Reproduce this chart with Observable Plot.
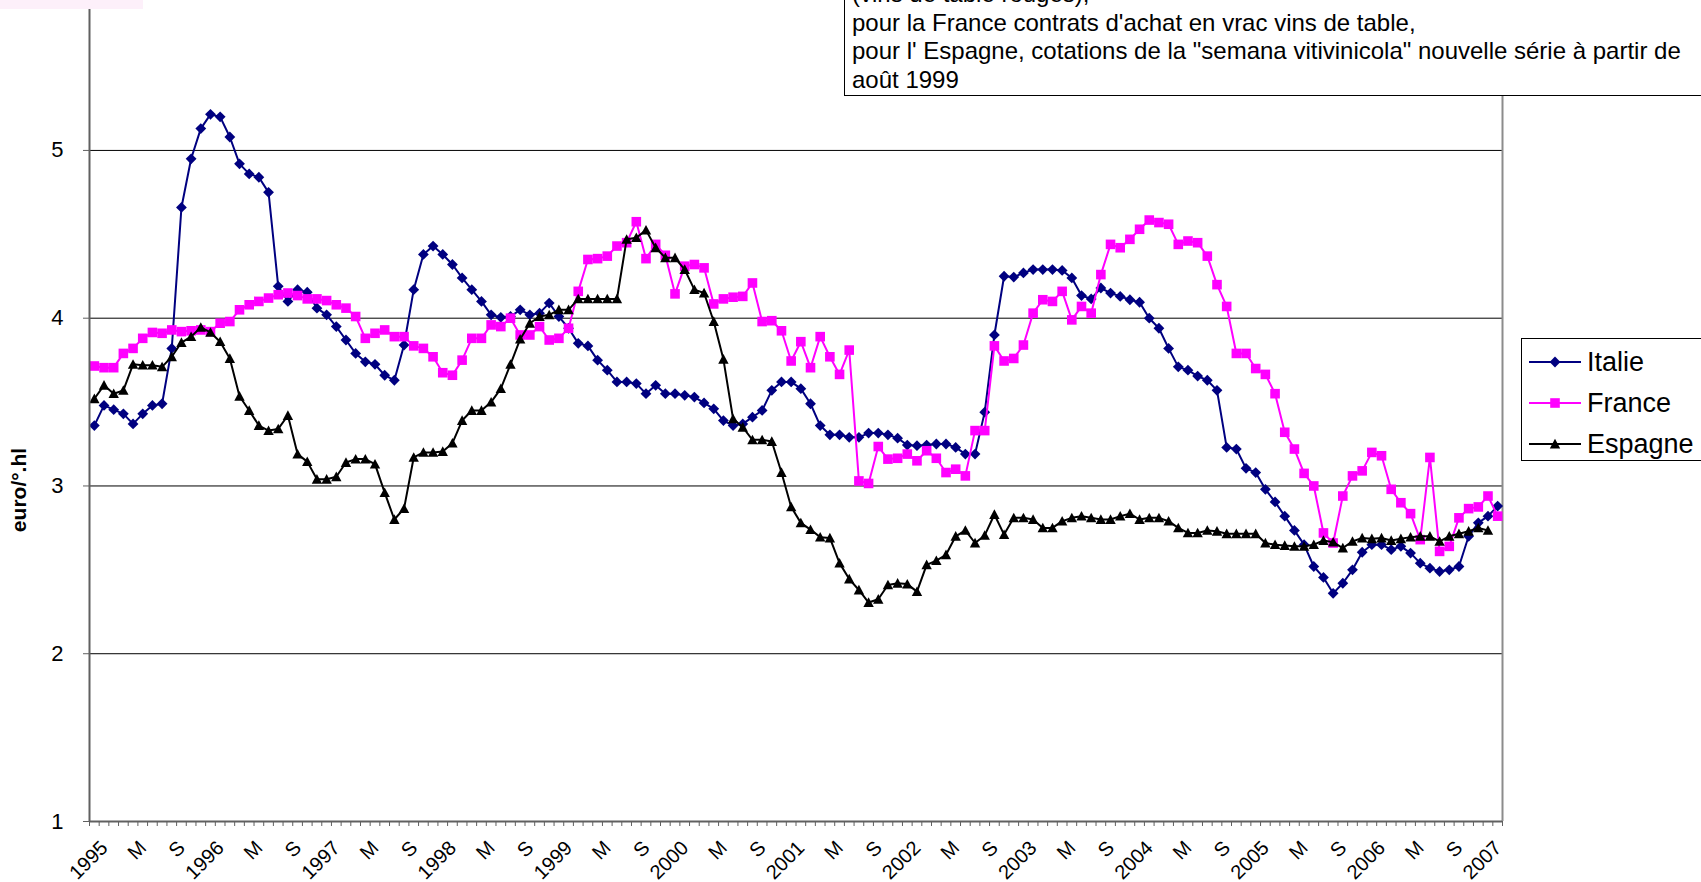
<!DOCTYPE html>
<html>
<head>
<meta charset="utf-8">
<script src="https://cdn.jsdelivr.net/npm/d3@7"></script>
<script src="https://cdn.jsdelivr.net/npm/@observablehq/plot@0.6"></script>
<style>
  body { margin: 0; background: #fff; }
  #wrap { position: relative; width: 1701px; height: 882px; overflow: hidden; font-family: Arial, "Liberation Sans", sans-serif; background: #fff; }
  #chart { position: absolute; left: 0; top: 0; }
  #note { position: absolute; left: 844px; top: -21px; width: 900px; border: 1px solid #000; background: #fff; font-size: 24px; line-height: 28.7px; padding-left: 7px; color: #000; white-space: nowrap; }
  #legend { position: absolute; left: 1521px; top: 338px; width: 220px; height: 121px; border: 1px solid #000; background: #fff; }
  .lrow { position: absolute; left: 5px; height: 30px; display: flex; align-items: center; font-size: 27px; color: #000; }
  .lrow svg { margin-right: 4px; }
  #pinkbar { position: absolute; left: 0; top: 0; width: 143px; height: 9px; background: #fdf0fa; }
  #ytitle { position: absolute; left: 19px; top: 490px; transform: translate(-50%, -50%) rotate(-90deg); font-weight: bold; font-size: 21px; white-space: nowrap; color: #000; }
</style>
</head>
<body>
<div id="wrap">
  <div id="chart"></div>
  <div id="pinkbar"></div>
  <div id="ytitle"></div>
  <div id="note">
    <div>(vins de table rouges),</div>
    <div>pour la France contrats d'achat en vrac vins de table,</div>
    <div>pour l' Espagne, cotations de la "semana vitivinicola" nouvelle série à partir de</div>
    <div>août 1999</div>
  </div>
  <div id="legend"></div>
</div>
<script>
// ---- Data (monthly, Jan 1995 onward), euro/°.hl ----
const seriesNames = ["Italie", "France", "Espagne"];

const italie = [
  3.36, 3.48, 3.455, 3.43, 3.37, 3.43, 3.48, 3.49, 3.82, 4.66, 4.95, 5.13,
  5.215, 5.20, 5.08, 4.92, 4.86, 4.84, 4.75, 4.19, 4.10, 4.17, 4.155, 4.06,
  4.02, 3.95, 3.87, 3.79, 3.74, 3.725, 3.66, 3.63, 3.84, 4.17, 4.38, 4.43,
  4.38, 4.32, 4.24, 4.17, 4.10, 4.02, 4.005, 4.01, 4.05, 4.02, 4.03, 4.09,
  4.01, 3.94, 3.85, 3.835, 3.75, 3.69, 3.62, 3.62, 3.61, 3.55, 3.60, 3.55,
  3.55, 3.54, 3.53, 3.495, 3.46, 3.39, 3.36, 3.37, 3.41, 3.45, 3.57, 3.62,
  3.62, 3.58, 3.49, 3.36, 3.305, 3.305, 3.29, 3.29, 3.315, 3.315, 3.305, 3.285,
  3.244, 3.24, 3.244, 3.25, 3.25, 3.23, 3.19, 3.19, 3.44, 3.90, 4.25, 4.245,
  4.27, 4.29, 4.29, 4.29, 4.285, 4.24, 4.135, 4.115, 4.18, 4.15, 4.13, 4.11,
  4.095, 4.00, 3.94, 3.82, 3.71, 3.69, 3.655, 3.63, 3.57, 3.23, 3.22, 3.105,
  3.08, 2.98, 2.905, 2.82, 2.735, 2.65, 2.52, 2.455, 2.36, 2.42, 2.50, 2.605,
  2.65, 2.65, 2.62, 2.64, 2.60, 2.54, 2.51, 2.49, 2.50, 2.52, 2.70, 2.78,
  2.82, 2.88
];

const france = [
  3.715, 3.705, 3.705, 3.79, 3.82, 3.88, 3.915, 3.91, 3.93, 3.92, 3.925, 3.93,
  3.92, 3.97, 3.98, 4.05, 4.08, 4.10, 4.12, 4.14, 4.15, 4.135, 4.115, 4.115,
  4.105, 4.08, 4.06, 4.01, 3.88, 3.91, 3.93, 3.89, 3.89, 3.835, 3.82, 3.77,
  3.675, 3.66, 3.75, 3.88, 3.88, 3.96, 3.95, 4.00, 3.90, 3.90, 3.95, 3.87,
  3.88, 3.94, 4.16, 4.35, 4.355, 4.37, 4.43, 4.45, 4.575, 4.355, 4.44, 4.375,
  4.145, 4.31, 4.32, 4.30, 4.085, 4.115, 4.125, 4.13, 4.21, 3.98, 3.985, 3.925,
  3.745, 3.86, 3.705, 3.89, 3.77, 3.665, 3.81, 3.03, 3.015, 3.235, 3.16, 3.165,
  3.19, 3.15, 3.21, 3.165, 3.08, 3.10, 3.06, 3.33, 3.33, 3.835, 3.745, 3.76,
  3.84, 4.03, 4.11, 4.10, 4.16, 3.99, 4.07, 4.03, 4.26, 4.44, 4.42, 4.47,
  4.53, 4.585, 4.57, 4.56, 4.44, 4.46, 4.45, 4.37, 4.20, 4.07, 3.79, 3.79,
  3.70, 3.665, 3.55, 3.32, 3.22, 3.075, 3.00, 2.72, 2.66, 2.94, 3.06, 3.09,
  3.20, 3.18, 2.98, 2.90, 2.835, 2.68, 3.17, 2.61, 2.64, 2.81, 2.865, 2.875,
  2.94, 2.82
];

const espagne = [
  3.52, 3.60, 3.55, 3.57, 3.725, 3.72, 3.72, 3.71, 3.77, 3.855, 3.89, 3.945,
  3.915, 3.86, 3.76, 3.535, 3.45, 3.36, 3.33, 3.34, 3.42, 3.19, 3.145, 3.04,
  3.04, 3.055, 3.14, 3.16, 3.16, 3.13, 2.96, 2.80, 2.865, 3.17, 3.20, 3.20,
  3.205, 3.255, 3.39, 3.45, 3.45, 3.50, 3.58, 3.725, 3.875, 3.97, 4.01, 4.02,
  4.05, 4.05, 4.115, 4.115, 4.115, 4.115, 4.115, 4.47, 4.48, 4.525, 4.42, 4.36,
  4.36, 4.29, 4.17, 4.15, 3.98, 3.755, 3.40, 3.35, 3.275, 3.275, 3.265, 3.08,
  2.875, 2.78, 2.74, 2.695, 2.69, 2.54, 2.445, 2.38, 2.305, 2.325, 2.41, 2.42,
  2.415, 2.37, 2.53, 2.555, 2.59, 2.70, 2.735, 2.66, 2.705, 2.83, 2.71, 2.81,
  2.81, 2.80, 2.75, 2.75, 2.79, 2.81, 2.82, 2.81, 2.80, 2.80, 2.82, 2.835,
  2.80, 2.81, 2.81, 2.79, 2.75, 2.72, 2.72, 2.735, 2.73, 2.715, 2.715, 2.715,
  2.715, 2.66, 2.65, 2.645, 2.64, 2.64, 2.65, 2.675, 2.665, 2.63, 2.67, 2.69,
  2.685, 2.69, 2.675, 2.685, 2.695, 2.70, 2.70, 2.67, 2.70, 2.715, 2.73, 2.75,
  2.735
];

const tickLabels = [
  "1995","M","S","1996","M","S","1997","M","S","1998","M","S",
  "1999","M","S","2000","M","S","2001","M","S","2002","M","S",
  "2003","M","S","2004","M","S","2005","M","S","2006","M","S","2007"
];
const yTicks = [1, 2, 3, 4, 5];
const gridValues = [2, 3, 4, 5];
const yTitle = "euro/°.hl";

// ---- Marker symbols (Excel-like) ----
const symDiamond = { draw(ctx, size) { const r = Math.sqrt(size / Math.PI); ctx.moveTo(0, -r); ctx.lineTo(r, 0); ctx.lineTo(0, r); ctx.lineTo(-r, 0); ctx.closePath(); } };
const symSquare = { draw(ctx, size) { const r = Math.sqrt(size / Math.PI); ctx.moveTo(-r, -r); ctx.lineTo(r, -r); ctx.lineTo(r, r); ctx.lineTo(-r, r); ctx.closePath(); } };
const symTriangle = { draw(ctx, size) { const r = Math.sqrt(size / Math.PI); ctx.moveTo(0, -r); ctx.lineTo(r, r * 0.85); ctx.lineTo(-r, r * 0.85); ctx.closePath(); } };

const styles = [
  { name: seriesNames[0], values: italie, color: "#000080", symbol: symDiamond, r: 5.4 },
  { name: seriesNames[1], values: france, color: "#FF00FF", symbol: symSquare, r: 4.8 },
  { name: seriesNames[2], values: espagne, color: "#000000", symbol: symTriangle, r: 5.2 }
];

const nMonths = italie.length;
const bounds = d3.range(nMonths + 1).map(k => k - 0.5);

const marks = [];
marks.push(Plot.ruleY(gridValues, { stroke: "#000", strokeWidth: 1 }));
marks.push(Plot.ruleX([nMonths - 0.5], { stroke: "#8c8c8c", strokeWidth: 2 }));
for (const s of styles) {
  const data = s.values.map((v, i) => ({ i, v }));
  marks.push(Plot.line(data, { x: "i", y: "v", stroke: s.color, strokeWidth: 2 }));
  marks.push(Plot.dot(data, { x: "i", y: "v", symbol: s.symbol, r: s.r, fill: s.color, stroke: "none" }));
}
marks.push(Plot.ruleX([-0.5], { stroke: "#606060", strokeWidth: 2 }));
marks.push(Plot.ruleY([1], { stroke: "#606060", strokeWidth: 2 }));
marks.push(Plot.axisY(yTicks, { tickSize: 6, tickFormat: () => "", stroke: "#606060", label: null }));
marks.push(Plot.text(yTicks, { y: d => d, text: d => String(d), frameAnchor: "left", textAnchor: "end", lineAnchor: "middle", dx: -26, fontSize: 22 }));
marks.push(Plot.axisX(bounds, { tickSize: 5, tickFormat: () => "", stroke: "#606060", label: null }));
marks.push(Plot.text(tickLabels, { x: (d, k) => k * 4, text: d => d, frameAnchor: "bottom", rotate: -45, textAnchor: "end", lineAnchor: "middle", dx: 10, dy: 23, fontSize: 20 }));

const chart = Plot.plot({
  width: 1701,
  height: 882,
  marginLeft: 89,
  marginRight: 199,
  marginTop: 9,
  marginBottom: 61,
  x: { type: "linear", domain: [-0.5, nMonths - 0.5], label: null },
  y: { type: "linear", domain: [1, 5.84], label: null },
  style: { fontFamily: "Arial, 'Liberation Sans', sans-serif", background: "white", color: "#000", overflow: "visible" },
  marks
});
document.getElementById("chart").appendChild(chart);
document.getElementById("ytitle").textContent = yTitle;

// ---- Legend ----
const legend = document.getElementById("legend");
const rowTops = [8, 49, 90];
styles.forEach((s, k) => {
  const row = document.createElement("div");
  row.className = "lrow";
  row.style.top = rowTops[k] + "px";
  const svg = d3.create("svg").attr("width", 56).attr("height", 20);
  svg.append("line").attr("x1", 2).attr("x2", 54).attr("y1", 10).attr("y2", 10).attr("stroke", s.color).attr("stroke-width", 2);
  const p = d3.path();
  s.symbol.draw(p, Math.PI * s.r * s.r);
  svg.append("path").attr("d", p.toString()).attr("transform", "translate(28,10)").attr("fill", s.color);
  row.appendChild(svg.node());
  const t = document.createElement("span");
  t.textContent = s.name;
  row.appendChild(t);
  legend.appendChild(row);
});
</script>
</body>
</html>
